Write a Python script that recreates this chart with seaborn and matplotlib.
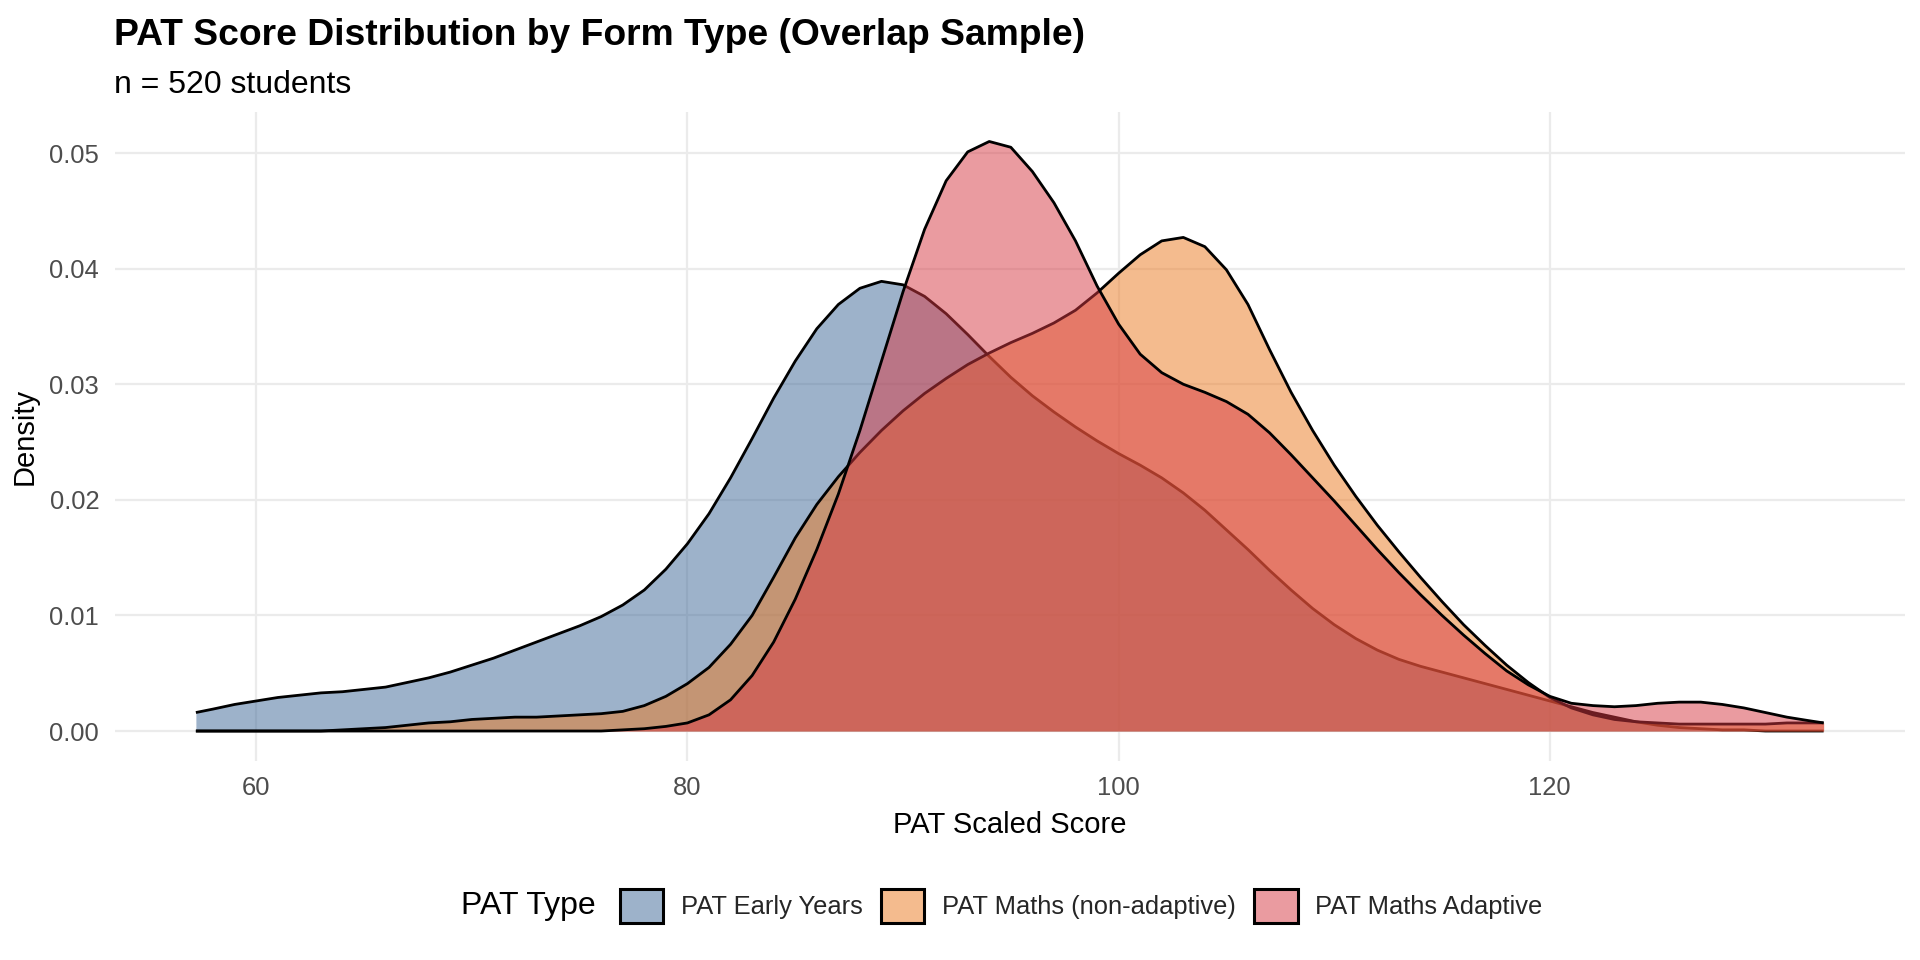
import matplotlib
matplotlib.use("Agg")
import matplotlib.pyplot as plt
import seaborn as sns
import pandas as pd
from matplotlib.patches import Patch
from matplotlib.colors import to_rgba

# ---------------- data ----------------
score = [57.2, 58, 59, 60, 61, 62, 63, 64, 65, 66,
         67, 68, 69, 70, 71, 72, 73, 74, 75, 76,
         77, 78, 79, 80, 81, 82, 83, 84, 85, 86,
         87, 88, 89, 90, 91, 92, 93, 94, 95, 96,
         97, 98, 99, 100, 101, 102, 103, 104, 105, 106,
         107, 108, 109, 110, 111, 112, 113, 114, 115, 116,
         117, 118, 119, 120, 121, 122, 123, 124, 125, 126,
         127, 128, 129, 130, 131, 132, 132.7]

early_years = [0.0016, 0.0019, 0.0023, 0.0026, 0.0029, 0.0031, 0.0033, 0.0034, 0.0036, 0.0038,
               0.0042, 0.0046, 0.0051, 0.0057, 0.0063, 0.0070, 0.0077, 0.0084, 0.0091, 0.0099,
               0.0109, 0.0122, 0.0140, 0.0162, 0.0188, 0.0219, 0.0253, 0.0288, 0.0320, 0.0348,
               0.0369, 0.0383, 0.0389, 0.0386, 0.0376, 0.0361, 0.0343, 0.0324, 0.0306, 0.0290,
               0.0276, 0.0263, 0.0251, 0.0240, 0.0230, 0.0219, 0.0206, 0.0191, 0.0174, 0.0157,
               0.0139, 0.0122, 0.0106, 0.0092, 0.0080, 0.0070, 0.0062, 0.0056, 0.0051, 0.0046,
               0.0041, 0.0036, 0.0031, 0.0026, 0.0021, 0.0016, 0.0012, 0.0008, 0.0005, 0.0003,
               0.0002, 0.0001, 0.0001, 0.0000, 0.0000, 0.0000, 0.0000]

maths_non_adaptive = [0.0000, 0.0000, 0.0000, 0.0000, 0.0000, 0.0000, 0.0000, 0.0001, 0.0002, 0.0003,
                      0.0005, 0.0007, 0.0008, 0.0010, 0.0011, 0.0012, 0.0012, 0.0013, 0.0014, 0.0015,
                      0.0017, 0.0022, 0.0030, 0.0041, 0.0055, 0.0075, 0.0100, 0.0133, 0.0167, 0.0196,
                      0.0220, 0.0241, 0.0260, 0.0277, 0.0292, 0.0305, 0.0317, 0.0327, 0.0336, 0.0344,
                      0.0353, 0.0364, 0.0379, 0.0396, 0.0412, 0.0424, 0.0427, 0.0419, 0.0399, 0.0369,
                      0.0330, 0.0293, 0.0260, 0.0230, 0.0203, 0.0178, 0.0155, 0.0133, 0.0112, 0.0092,
                      0.0074, 0.0057, 0.0042, 0.0029, 0.0020, 0.0014, 0.0010, 0.0008, 0.0007, 0.0006,
                      0.0006, 0.0006, 0.0006, 0.0006, 0.0007, 0.0007, 0.0007]

maths_adaptive = [0.0000, 0.0000, 0.0000, 0.0000, 0.0000, 0.0000, 0.0000, 0.0000, 0.0000, 0.0000,
                  0.0000, 0.0000, 0.0000, 0.0000, 0.0000, 0.0000, 0.0000, 0.0000, 0.0000, 0.0000,
                  0.0001, 0.0002, 0.0004, 0.0007, 0.0014, 0.0027, 0.0048, 0.0077, 0.0114, 0.0157,
                  0.0205, 0.0260, 0.0320, 0.0380, 0.0434, 0.0476, 0.0501, 0.0510, 0.0505, 0.0484,
                  0.0457, 0.0424, 0.0385, 0.0352, 0.0326, 0.0310, 0.0300, 0.0293, 0.0285, 0.0274,
                  0.0258, 0.0239, 0.0219, 0.0199, 0.0178, 0.0157, 0.0137, 0.0118, 0.0100, 0.0083,
                  0.0067, 0.0052, 0.0040, 0.0030, 0.0024, 0.0022, 0.0021, 0.0022, 0.0024, 0.0025,
                  0.0025, 0.0023, 0.0020, 0.0016, 0.0012, 0.0009, 0.0007]

series_names = ["PAT Early Years", "PAT Maths (non-adaptive)", "PAT Maths Adaptive"]
series_values = [early_years, maths_non_adaptive, maths_adaptive]
series_colors = ["#3D6797", "#EB791F", "#D73943"]
fill_alpha = 0.5

x_ticks = [60, 80, 100, 120]
y_ticks = [0.00, 0.01, 0.02, 0.03, 0.04, 0.05]

title = "PAT Score Distribution by Form Type (Overlap Sample)"
subtitle = "n = 520 students"
x_label = "PAT Scaled Score"
y_label = "Density"
legend_title = "PAT Type"

df = pd.concat(
    [pd.DataFrame({"score": score, "density": vals, "type": name})
     for name, vals in zip(series_names, series_values)],
    ignore_index=True,
)

# ---------------- figure ----------------
sns.set_theme(style="white")
plt.rcParams["font.family"] = ["Liberation Sans", "DejaVu Sans"]

W, H = 1920, 960
fig = plt.figure(figsize=(W / 200, H / 200), dpi=200)
ax = fig.add_axes([114.5 / W, 1 - 760.5 / H, (1905 - 114.5) / W, (760.5 - 112) / H])

z = 2
for name, color in zip(series_names, series_colors):
    sub = df[df["type"] == name]
    ax.fill_between(sub["score"], 0, sub["density"], color=color, alpha=fill_alpha,
                    linewidth=0, zorder=z)
    sns.lineplot(data=sub, x="score", y="density", color="black", linewidth=1.0,
                 estimator=None, sort=False, legend=False, ax=ax, zorder=z + 1,
                 solid_joinstyle="round", solid_capstyle="butt")
    z += 2

ax.use_sticky_edges = False
ax.margins(x=0.05, y=0.05)

ax.set_xticks(x_ticks)
ax.set_yticks(y_ticks)
ax.set_yticklabels([f"{v:.2f}" for v in y_ticks])
ax.grid(True, color="#EBEBEB", linewidth=0.8)
ax.set_axisbelow(True)
for s in ax.spines.values():
    s.set_visible(False)
ax.tick_params(axis="both", length=0, pad=5.5, labelsize=9.2, labelcolor="#4D4D4D")
ax.set_xlabel(x_label, fontsize=10.5, color="black", labelpad=4)
ax.set_ylabel(y_label, fontsize=10.5, color="black", labelpad=4)

fig.text(114.5 / W, 1 - 45 / H, title, fontsize=13.4, fontweight="bold",
         ha="left", va="baseline", color="black")
fig.text(114.5 / W, 1 - 93 / H, subtitle, fontsize=11.5,
         ha="left", va="baseline", color="black")

# legend
handles = [Patch(facecolor=to_rgba(c, fill_alpha), edgecolor="black", linewidth=1.1)
           for c in series_colors]
leg_y = 1 - 906 / H
fig.legend(handles, series_names, loc="center left", bbox_to_anchor=(620 / W, leg_y),
           ncol=3, frameon=False, fontsize=9.2, handlelength=1.7, handleheight=1.7,
           handletextpad=0.7, columnspacing=0.7, borderpad=0, borderaxespad=0)
fig.text(461 / W, leg_y, legend_title, fontsize=11.5, ha="left", va="center", color="black")

fig.savefig("out.png", dpi=200)
